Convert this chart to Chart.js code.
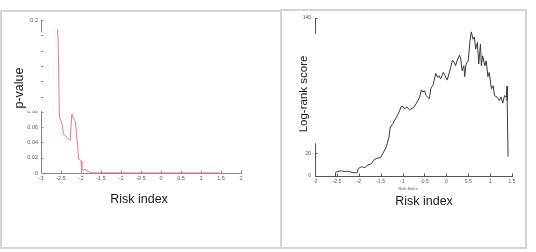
<!DOCTYPE html>
<html><head><meta charset="utf-8">
<script src="https://cdn.jsdelivr.net/npm/chart.js@4"></script>
<style>
html,body{margin:0;padding:0;background:#fff;width:536px;height:252px;overflow:hidden;}
.box{position:absolute;border:2px solid #d4d4d4;box-sizing:border-box;}
canvas{position:absolute;top:0;}
</style></head>
<body>
<div class="box" style="left:0;top:10px;width:282px;height:239px;"></div>
<div class="box" style="left:280px;top:9px;width:247px;height:240px;"></div>
<canvas id="cL" width="282" height="252" style="left:0"></canvas>
<canvas id="cR" width="245" height="252" style="left:282px"></canvas>
<script>
// ---- Left panel: p-value vs risk index ----
const pRisk = [-2.585,-2.57,-2.54,-2.5,-2.46,-2.44,-2.39,-2.32,-2.27,-2.23,-2.19,-2.14,-2.12,-2.09,-2.06,-2.02,-2.0,-1.98,-1.93,-1.9,-1.85,-1.8,-1.77,-1.7,-1.5,-1.0,-0.5,0,0.5,1.0,1.45];
const pValue = [0.188,0.172,0.073,0.068,0.061,0.051,0.048,0.045,0.043,0.077,0.072,0.067,0.055,0.039,0.018,0.017,0.016,0.004,0.004,0.005,0.003,0.002,0.0004,0.0003,0.0002,0.0002,0.0001,0.0001,0.0001,0.0001,0.0001];
const pLabelTicks = [0,0.02,0.04,0.06,0.08,0.2];

// ---- Right panel: log-rank score vs risk index ----
const lrRisk = [-2.53,-2.53,-2.5,-2.4,-2.3,-2.24,-2.13,-2.04,-2.01,-1.94,-1.86,-1.79,-1.71,-1.66,-1.6,-1.5,-1.45,-1.37,-1.31,-1.28,-1.22,-1.14,-1.08,-1.03,-0.99,-0.95,-0.9,-0.84,-0.75,-0.69,-0.61,-0.57,-0.54,-0.5,-0.46,-0.43,-0.39,-0.35,-0.31,-0.28,-0.24,-0.2,-0.17,-0.13,-0.07,-0.03,0.02,0.1,0.14,0.18,0.21,0.26,0.3,0.33,0.36,0.4,0.42,0.45,0.5,0.54,0.57,0.61,0.64,0.67,0.71,0.74,0.78,0.8,0.83,0.88,0.91,0.95,0.98,1.03,1.07,1.1,1.16,1.21,1.25,1.29,1.33,1.37,1.39,1.39,1.41];
const lrScore = [0,3,4,4.5,4,4.2,2.9,2.9,6.7,8.2,7.5,9.7,11,14,15.5,16.4,20,25.8,34.6,43.4,46.4,52.2,56.6,61.6,61.6,59.5,61,58.7,60.5,64,69.8,76.3,74.3,75.7,71.3,69.8,68.4,78,80,84.5,91,87.4,88.9,86,91.8,88.9,85,96.2,102.7,100.6,97.7,103.6,107.1,103.6,93.3,97.7,88,99.2,102,119.7,127.7,121.2,123.2,112.4,118.3,99.2,116.8,97.7,106.5,97.7,102,88,91.8,77.2,80,71.3,69.8,66.9,69.8,64.6,71.3,69.8,79.5,66.9,17];
const lrLabelTicks = [0,20,140];

const FONT = '"Liberation Sans", Arial, sans-serif';

function near(v, arr){ return arr.some(a => Math.abs(a - v) < 1e-9); }
const fmtX = v => String(+(+v).toFixed(1));

const decor = {
  id: 'decor',
  afterDraw(chart, args, o) {
    const {ctx, chartArea: ca, scales: {x, y}} = chart;
    ctx.save();
    const drawMask = () => {
      ctx.fillStyle = '#fff';
      const t = y.getPixelForValue(o.gap[0]), b = y.getPixelForValue(o.gap[1]);
      ctx.fillRect(ca.left - 34, t, 34 + o.maskRight, b - t);
    };
    const drawTicks = () => {
      ctx.strokeStyle = o.axisColor; ctx.lineWidth = 1;
      ctx.beginPath();
      x.ticks.forEach(t => { const px = Math.round(x.getPixelForValue(t.value)) + 0.5; ctx.moveTo(px, ca.bottom); ctx.lineTo(px, ca.bottom - 2.5); });
      y.ticks.forEach(t => { const py = Math.round(y.getPixelForValue(t.value)) + 0.5; ctx.moveTo(ca.left, py); ctx.lineTo(ca.left + 2.5, py); });
      ctx.stroke();
    };
    if (o.maskFirst) { drawMask(); drawTicks(); } else { drawTicks(); drawMask(); }
    ctx.fillStyle = '#1a1a1a';
    ctx.textAlign = 'center'; ctx.textBaseline = 'middle';
    ctx.font = o.xFont + 'px ' + FONT;
    ctx.fillText(o.xTitle, o.xPos[0], o.xPos[1]);
    ctx.font = o.yFont + 'px ' + FONT;
    ctx.save(); ctx.translate(o.yPos[0], o.yPos[1]); ctx.rotate(-Math.PI/2);
    ctx.fillText(o.yTitle, 0, 0); ctx.restore();
    if (o.small) {
      ctx.fillStyle = '#555';
      ctx.font = '4.5px "Liberation Serif", serif';
      ctx.fillText(o.small, o.smallPos[0], o.smallPos[1]);
    }
    ctx.restore();
  }
};
Chart.register(decor);

new Chart(document.getElementById('cL'), {
  type: 'line',
  data: { datasets: [{ data: pRisk.map((v,i)=>({x:v, y:pValue[i]})), borderColor:'#ef7a7a', borderWidth:1, pointRadius:0, tension:0, clip:3 }] },
  options: {
    responsive:false, animation:false, events:[],
    layout:{ padding:{ left:11, right:41, top:20, bottom:59 } },
    plugins:{ legend:{display:false}, tooltip:{enabled:false},
      decor:{ gap:[0.184,0.081], maskFirst:true, maskRight:1.2, axisColor:'#8a8a8a',
        xTitle:'Risk index', xPos:[139,200], xFont:12.5,
        yTitle:'p-value', yPos:[20,88], yFont:12.5 } },
    scales:{
      x:{ type:'linear', min:-3, max:2,
        ticks:{ stepSize:0.5, autoSkip:false, maxRotation:0, color:'#555', padding:2, font:{size:5.5, family:FONT}, callback: fmtX },
        grid:{ display:false, drawTicks:false }, border:{ color:'#8a8a8a', width:1 },
        afterFit(s){ s.height = 20; } },
      y:{ min:0, max:0.2,
        ticks:{ stepSize:0.02, autoSkip:false, color:'#555', padding:3, font:{size:5.5, family:FONT},
          callback:(v)=> near(v, pLabelTicks) ? String(+v.toFixed(2)) : '' },
        grid:{ display:false, drawTicks:false }, border:{ color:'#8a8a8a', width:1 },
        afterFit(s){ s.width = 30; } }
    }
  }
});

new Chart(document.getElementById('cR'), {
  type: 'line',
  data: { datasets: [{ data: lrRisk.map((v,i)=>({x:v, y:lrScore[i]})), borderColor:'#3a3a3a', borderWidth:1, pointRadius:0, tension:0, clip:3 }] },
  options: {
    responsive:false, animation:false, events:[],
    layout:{ padding:{ left:7, right:15, top:18, bottom:56 } },
    plugins:{ legend:{display:false}, tooltip:{enabled:false},
      decor:{ gap:[126,29], maskFirst:false, maskRight:3.5, axisColor:'#555',
        xTitle:'Risk index', xPos:[142,202], xFont:12.5,
        yTitle:'Log-rank score', yPos:[22,94], yFont:11.5,
        small:'Risk Index', smallPos:[126,189] } },
    scales:{
      x:{ type:'linear', min:-3, max:1.5,
        ticks:{ stepSize:0.5, autoSkip:false, maxRotation:0, color:'#555', padding:3, font:{size:5, family:FONT}, callback: fmtX },
        grid:{ display:false, drawTicks:false }, border:{ color:'#555', width:1 },
        afterFit(s){ s.height = 20; } },
      y:{ min:0, max:140,
        ticks:{ stepSize:20, autoSkip:false, color:'#555', padding:4, font:{size:5, family:FONT},
          callback:(v)=> near(v, lrLabelTicks) ? String(v) : '' },
        grid:{ display:false, drawTicks:false }, border:{ color:'#555', width:1 },
        afterFit(s){ s.width = 26; } }
    }
  }
});
</script>
</body></html>
